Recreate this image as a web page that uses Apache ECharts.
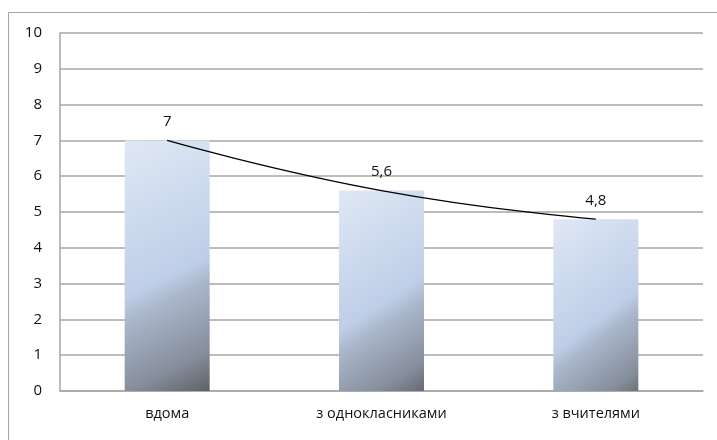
<!DOCTYPE html>
<html>
<head>
<meta charset="utf-8">
<script src="https://cdn.jsdelivr.net/npm/echarts@6/dist/echarts.min.js"></script>
<style>html,body{margin:0;padding:0;background:#fff}#c{width:717px;height:440px}</style>
</head>
<body>
<div id="c"></div>
<script>
var categories = ['вдома', 'з однокласниками', 'з вчителями'];
var values = [7, 5.6, 4.8];
var yTicks = [0, 1, 2, 3, 4, 5, 6, 7, 8, 9, 10];

var chart = echarts.init(document.getElementById('c'), null, {renderer: 'canvas'});
var font = '"Open Sans", "Noto Sans", sans-serif';
chart.setOption({
  animation: false,
  backgroundColor: '#fff',
  graphic: [{
    type: 'rect', shape: {x: 8.5, y: 12.5, width: 720, height: 440},
    style: {fill: 'none', stroke: '#a6a6a6', lineWidth: 1}, silent: true, z: -1
  }],
  grid: {left: 60, right: 14, top: 33, bottom: 49},
  xAxis: {
    type: 'category', data: categories,
    axisLine: {show: true, lineStyle: {color: '#a6a6a6', width: 1.5}},
    axisTick: {show: false},
    axisLabel: {color: '#111', fontFamily: font, fontSize: 14.5, margin: 15}
  },
  yAxis: {
    type: 'value', min: 0, max: 10, interval: 1,
    axisLine: {show: true, lineStyle: {color: '#a6a6a6', width: 1.5}},
    axisTick: {show: false},
    splitLine: {lineStyle: {color: '#a6a6a6', width: 1.5}},
    axisLabel: {color: '#111', fontFamily: font, fontSize: 15, margin: 18,
      formatter: function (v) { return yTicks.indexOf(v) >= 0 ? String(v) : ''; }}
  },
  series: [{
    type: 'bar', data: values, barWidth: 85,
    itemStyle: {
      color: new echarts.graphic.LinearGradient(0, 0, 1.5, 1, [
        {offset: 0, color: '#dfe8f4'},
        {offset: 0.5, color: '#bfcee8'},
        {offset: 0.58, color: '#aab6ca'},
        {offset: 0.8, color: '#858e9c'},
        {offset: 1, color: '#4a4a4a'}
      ])
    },
    label: {show: true, position: 'top', distance: 11, color: '#111',
      fontFamily: font, fontSize: 15,
      formatter: function (p) { return String(p.value).replace('.', ','); }}
  }, {
    type: 'line', data: values, smooth: true, symbol: 'none',
    lineStyle: {color: '#000', width: 1.3}, z: 5
  }]
});
</script>
</body>
</html>
